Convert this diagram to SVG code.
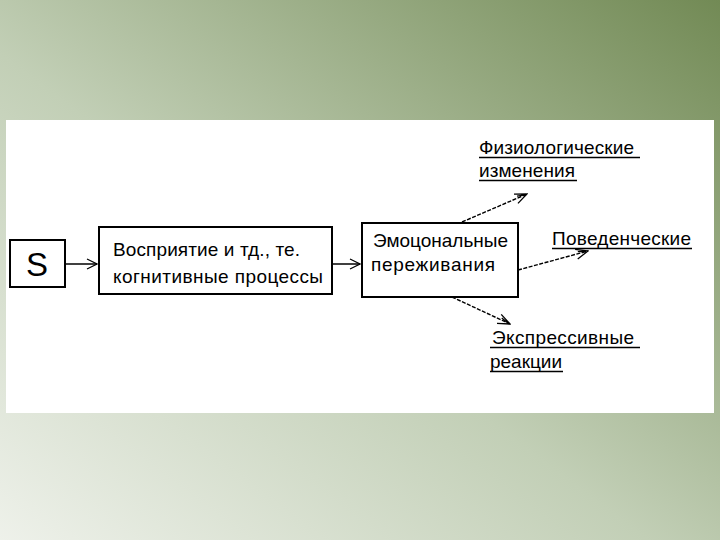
<svg xmlns="http://www.w3.org/2000/svg" width="720" height="540" viewBox="0 0 720 540">
<defs>
<linearGradient id="bg" x1="0" y1="1" x2="1" y2="0">
<stop offset="0" stop-color="#eef1ea"/>
<stop offset="0.45" stop-color="#c2cfb6"/>
<stop offset="1" stop-color="#728a55"/>
</linearGradient>
<marker id="open" viewBox="0 0 12 12" refX="11" refY="6" markerWidth="12" markerHeight="12" markerUnits="userSpaceOnUse" orient="auto">
<path d="M1,1 L11,6 L1,11" fill="none" stroke="#000" stroke-width="1.2"/>
</marker>
<marker id="open2" viewBox="0 0 14 12" refX="13" refY="6" markerWidth="14" markerHeight="12" markerUnits="userSpaceOnUse" orient="auto">
<path d="M1,1 L13,6 L1,11 M3,4 L11,6" fill="none" stroke="#000" stroke-width="1.3"/>
</marker>
</defs>
<style>
.box{fill:#fff;stroke:#000;stroke-width:2}
.t{font-family:"Liberation Sans",Arial,sans-serif;font-size:19px;fill:#000}
.big{font-size:33px}
.u{stroke:#000;stroke-width:1.5}
.c{stroke:#000;stroke-width:1.5;fill:none}
.d{stroke:#000;stroke-width:1.4;fill:none;stroke-dasharray:4 1.5}
</style>
<rect width="720" height="540" fill="url(#bg)"/>
<rect x="6" y="120" width="708" height="293" fill="#fff"/>
<g id="connectors">
<line class="c" x1="65" y1="264" x2="97" y2="264" marker-end="url(#open)"/>
<line class="c" x1="332" y1="264" x2="360" y2="264" marker-end="url(#open)"/>
<line class="d" x1="462" y1="222" x2="527" y2="194" marker-end="url(#open2)"/>
<line class="d" x1="518" y1="270" x2="588" y2="251" marker-end="url(#open2)"/>
<line class="d" x1="452" y1="297" x2="510" y2="324" marker-end="url(#open2)"/>
</g>
<g id="s">
<rect class="box" x="10" y="240" width="55" height="47"/>
<text class="t big" x="37" y="276" text-anchor="middle">S</text>
</g>
<g id="perception">
<rect class="box" x="99" y="227" width="233" height="67"/>
<text class="t" x="113" y="256" textLength="187">Восприятие и тд., те.</text>
<text class="t" x="113" y="283" textLength="210">когнитивные процессы</text>
</g>
<g id="emotion">
<rect class="box" x="362" y="223" width="156" height="74"/>
<text class="t" x="373" y="247" textLength="135">Эмоцональные</text>
<text class="t" x="371" y="271" textLength="124">переживания</text>
</g>
<g id="physio">
<text class="t" x="479" y="154" textLength="155">Физиологические</text>
<line class="u" x1="479" y1="157.5" x2="640" y2="157.5"/>
<text class="t" x="479" y="177" textLength="96">изменения</text>
<line class="u" x1="479" y1="180.5" x2="577" y2="180.5"/>
</g>
<g id="behav">
<text class="t" x="552" y="245" textLength="139">Поведенческие</text>
<line class="u" x1="552" y1="248.5" x2="692" y2="248.5"/>
</g>
<g id="express">
<text class="t" x="492" y="344" textLength="142">Экспрессивные</text>
<line class="u" x1="490" y1="347.5" x2="640" y2="347.5"/>
<text class="t" x="490" y="368" textLength="72">реакции</text>
<line class="u" x1="490" y1="371.5" x2="563" y2="371.5"/>
</g>
</svg>
